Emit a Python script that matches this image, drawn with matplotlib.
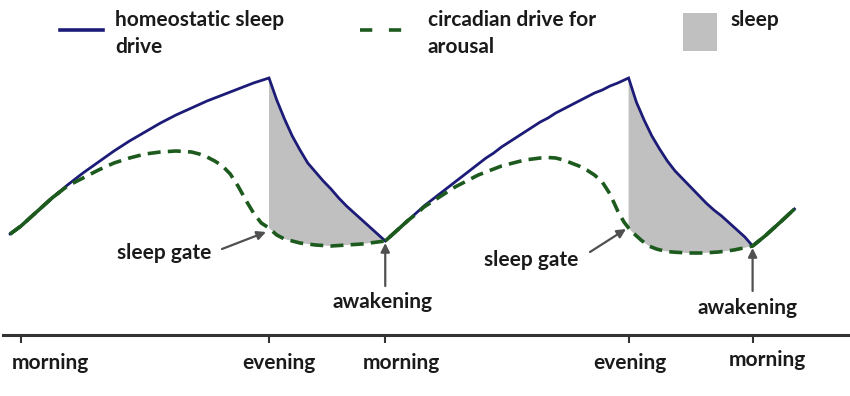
import numpy as np
import matplotlib.pyplot as plt
from matplotlib.lines import Line2D
from matplotlib.patches import Rectangle

# time in hours (0 = first morning), level in arbitrary units
blue_hours = [-0.7, 0, 1, 2, 3, 4, 5, 6, 7, 8, 9, 10, 11, 12, 13, 14, 15, 16,
              16.5, 17, 17.5, 18, 18.5, 19, 19.5, 20, 20.5, 21, 21.5, 22, 22.5, 23, 23.5,
              24, 24.5, 25, 25.5, 26, 26.5, 27, 27.5, 28, 28.5, 29, 29.5, 30, 30.5,
              31, 31.5, 32, 32.5, 33, 33.5, 34, 34.5, 35, 35.5, 36, 36.5, 37, 37.5,
              38, 38.5, 39.2,
              39.7, 40.2, 40.7, 41.2, 41.7, 42.2, 42.7, 43.2, 43.7, 44.2, 44.7,
              45.2, 45.7, 46.2, 46.7, 47.2,
              48, 49, 49.9]
blue_level = [98, 106, 120, 134, 147, 159, 170, 181, 191, 200, 209, 217, 224, 231, 237, 243, 249, 254,
              232, 213, 196, 182, 169, 160, 151, 143, 134, 126, 119, 112, 105, 98, 91,
              98, 105, 112, 119, 126, 132, 138, 144, 150, 156, 162, 168, 174, 179,
              185, 190, 195, 200, 205, 210, 214, 219, 223, 227, 231, 235, 239, 242,
              246, 249, 254,
              230, 212, 196, 183, 171, 161, 153, 145, 137, 129, 122,
              116, 109, 102, 95, 86,
              96, 110, 123]

green_hours = [-0.7, 0, 1, 2, 2.5, 3, 4, 5, 6, 7, 8, 9, 10, 11, 11.5, 12, 12.5,
               13, 13.5, 14, 14.5, 15, 15.5, 16, 16.5, 17, 18, 19, 20, 21, 22, 23, 23.5,
               24, 24.5, 25, 25.5, 26, 26.5, 27, 27.5, 28, 28.5, 29, 29.5, 30, 30.5,
               31, 31.5, 32, 32.5, 33, 33.5, 34, 34.5, 35, 35.5, 36, 36.5, 37, 37.5,
               38, 38.5, 38.9, 39.2, 39.5, 40, 40.5, 41, 41.5, 42, 43, 44, 45, 46, 47.2,
               48, 49, 49.9]
green_level = [98, 106, 120, 134, 140, 146, 154, 162, 169, 174, 178, 180, 181, 180, 178, 175, 171,
               166, 158, 146, 132, 119, 109, 104, 97, 93, 89, 87, 86, 87, 88, 90, 91,
               98, 105, 112, 118, 125, 130, 135, 140, 145, 149, 153, 157, 160, 163,
               166, 168, 170, 172, 173, 174, 174.5, 174, 172, 169, 166, 162, 157, 150,
               138, 121, 110, 104, 99, 92, 86, 83, 81, 80, 79, 79, 80, 82, 86,
               96, 110, 123]

tick_hours = [0, 16, 23.5, 39.2, 47.2]
tick_labels = ['morning', 'evening', 'morning', 'evening', 'morning']

blue_c = '#1c1c78'
green_c = '#1d5a1d'
gray_c = '#c0c0c0'
txt_c = '#1a1a1a'
arrow_c = '#505050'
font = 'Lato'
fs = 15

def h(px):
    return (px - 21) / 15.5

fig = plt.figure(figsize=(8.5, 3.96), dpi=100)
ax = fig.add_axes([3 / 850, 61 / 396, 847 / 850, 335 / 396])
ax.set_xlim(h(3), h(850))
ax.set_ylim(-3, 332)

bh = np.array(blue_hours)
bl = np.array(blue_level)
gh = np.array(green_hours)
gl = np.array(green_level)

# sleep shading between the two curves (evening -> awakening)
for start, end in [(16, 23.5), (39.2, 47.2)]:
    bm = (bh >= start) & (bh <= end)
    gm = (gh >= start) & (gh <= end)
    xs = np.concatenate([bh[bm], gh[gm][::-1]])
    ys = np.concatenate([bl[bm], gl[gm][::-1]])
    ax.fill(xs, ys, color=gray_c, lw=0, zorder=1)

ax.plot(bh, bl, color=blue_c, lw=2.0, zorder=2, solid_joinstyle='miter')
ax.plot(gh, gl, color=green_c, lw=2.6, dashes=(3.6, 2.0), zorder=3)
# where both drives coincide the circadian line reads as solid
for start, end in [(-0.7, 2.5), (23.5, 25), (47.2, 49.9)]:
    m = (gh >= start) & (gh <= end)
    ax.plot(gh[m], gl[m], color=green_c, lw=2.6, zorder=4, solid_capstyle='butt')

for s in ['top', 'right', 'left']:
    ax.spines[s].set_visible(False)
ax.spines['bottom'].set_linewidth(2.2)
ax.spines['bottom'].set_color('#333333')
ax.set_yticks([])
ax.set_xticks(tick_hours)
ax.set_xticklabels([])
ax.tick_params(axis='x', direction='out', length=6, width=1.5, color='#333333')

label_x = [h(50), h(279), h(401), h(630), h(767)]
label_y = [-31, -31, -31, -31, -28]
for x, y, t in zip(label_x, label_y, tick_labels):
    ax.text(x, y, t, ha='center', va='center', fontsize=fs, fontweight='bold',
            family=font, color=txt_c, clip_on=False)

arrow = dict(arrowstyle='-|>', color=arrow_c, lw=1.6, mutation_scale=13,
             shrinkA=0, shrinkB=0)
ax.text(h(164), 79, 'sleep gate', ha='center', va='center', fontsize=fs,
        fontweight='bold', family=font, color=txt_c)
ax.annotate('', xy=(h(266), 100), xytext=(h(222), 83), arrowprops=arrow)
ax.text(h(531), 72, 'sleep gate', ha='center', va='center', fontsize=fs,
        fontweight='bold', family=font, color=txt_c)
ax.annotate('', xy=(h(626), 103), xytext=(h(590), 80), arrowprops=arrow)
ax.text(h(383), 30, 'awakening', ha='center', va='center', fontsize=fs,
        fontweight='bold', family=font, color=txt_c)
ax.annotate('', xy=(23.5, 89), xytext=(23.5, 46), arrowprops=arrow)
ax.text(h(748), 24, 'awakening', ha='center', va='center', fontsize=fs,
        fontweight='bold', family=font, color=txt_c)
ax.annotate('', xy=(47.2, 84), xytext=(47.2, 41), arrowprops=arrow)

# legend drawn by hand in figure pixels
def fx(px):
    return px / 850

def fy(py):
    return 1 - py / 396

fig.add_artist(Line2D([fx(60), fx(103)], [fy(30), fy(30)], color=blue_c, lw=2.6))
fig.add_artist(Line2D([fx(360), fx(412)], [fy(30), fy(30)], color=green_c, lw=2.6,
                      dashes=(3.4, 4.6)))
fig.add_artist(Rectangle((fx(683), fy(51)), fx(34), 38 / 396, color=gray_c, lw=0))
fig.text(fx(115), fy(20), 'homeostatic sleep', ha='left', va='center', fontsize=fs,
         fontweight='bold', family=font, color=txt_c)
fig.text(fx(115), fy(47), 'drive', ha='left', va='center', fontsize=fs,
         fontweight='bold', family=font, color=txt_c)
fig.text(fx(428), fy(20), 'circadian drive for', ha='left', va='center', fontsize=fs,
         fontweight='bold', family=font, color=txt_c)
fig.text(fx(428), fy(47), 'arousal', ha='left', va='center', fontsize=fs,
         fontweight='bold', family=font, color=txt_c)
fig.text(fx(730), fy(20), 'sleep', ha='left', va='center', fontsize=fs,
         fontweight='bold', family=font, color=txt_c)

fig.savefig('out.png', dpi=100)
